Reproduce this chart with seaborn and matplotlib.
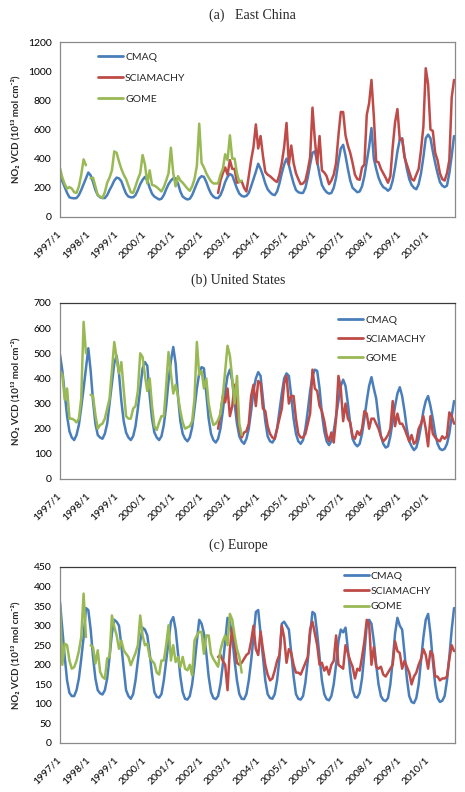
import numpy as np
import pandas as pd
import seaborn as sns
import matplotlib.pyplot as plt
from matplotlib.lines import Line2D

nan = np.nan

# month index 0 = 1997/1 ... 167 = 2010/12
tick_pos = list(range(0, 168, 12))
tick_labels = [f"{y}/1" for y in range(1997, 2011)]
scia_start = 67   # SCIAMACHY from 2002/8
gome_len = 78     # GOME until 2003/6

series_names = ['CMAQ', 'SCIAMACHY', 'GOME']
colors = {'CMAQ': '#4A7EBB', 'SCIAMACHY': '#BE4B48', 'GOME': '#98B954'}

# ---- (a) East China
ec_cmaq = [
    270, 245, 205, 165, 135, 130, 128, 130, 150, 185, 225, 265,
    305, 285, 240, 185, 150, 135, 130, 130, 150, 185, 215, 250,
    270, 265, 245, 200, 160, 140, 135, 135, 150, 185, 225, 255,
    275, 250, 200, 160, 140, 130, 120, 125, 150, 190, 225, 250,
    265, 265, 230, 175, 140, 128, 120, 125, 150, 190, 230, 265,
    280, 275, 240, 195, 160, 140, 130, 130, 150, 190, 240, 275,
    295, 285, 240, 195, 160, 145, 140, 145, 165, 210, 260, 310,
    365, 330, 285, 230, 190, 170, 155, 150, 175, 230, 300, 360,
    400, 355, 290, 230, 185, 170, 165, 165, 200, 270, 360, 440,
    450, 380, 290, 220, 190, 170, 160, 165, 200, 270, 380, 470,
    495, 420, 330, 250, 200, 185, 170, 175, 210, 280, 380, 480,
    610, 400, 330, 270, 230, 205, 195, 180, 195, 250, 340, 450,
    530, 540, 420, 330, 260, 220, 200, 190, 225, 300, 410, 540,
    565, 540, 450, 370, 300, 240, 215, 205, 215, 300, 420, 555,
]
ec_scia = [
    165, 250, 300, 340, 290,
    390, 330, 330, 235, 240, 245, 200, 175, 280, 390, 480, 635,
    470, 555, 420, 310, 290, 280, 265, 250, 240, 290, 370, 480,
    645, 360, 490, 370, 300, 260, 225, 230, 250, 320, 410, 750,
    530, 365, 555, 320, 305, 280, 225, 250, 290, 370, 560, 720,
    720, 560, 490, 440, 370, 290, 260, 255, 340, 360, 700, 780,
    940, 690, 380, 375, 330, 300, 270, 235, 280, 480, 650, 740,
    530, 535, 410, 360, 310, 260, 250, 290, 330, 460, 620, 1020,
    910, 600, 590, 440, 390, 300, 260, 250, 300, 390, 820, 940,
]
ec_gome = [
    335, 270, 225, 195, 205, 195, 170, 165, 210, 290, 395, 355,
    nan, 265, 270, 210, 150, 140, 130, 170, 235, 270, 320, 450,
    440, 380, 330, 290, 260, 215, 170, 165, 210, 260, 300, 425,
    360, 230, 320, 220, 215, 205, 190, 175, 205, 250, 300, 475,
    300, 210, 280, 250, 235, 215, 195, 180, 210, 260, 350, 640,
    370, 340, 300, 270, 245, 230, 230, 230, 290, 330, 430, 390,
    560, 400, 400, 300, 240, 250,
]

# ---- (b) United States
us_cmaq = [
    495, 430, 340, 250, 190, 165, 155, 175, 215, 285, 360, 440,
    520, 430, 310, 220, 175, 165, 160, 180, 220, 300, 380, 460,
    490, 420, 310, 230, 185, 165, 155, 170, 210, 280, 360, 440,
    465, 450, 330, 240, 185, 165, 155, 170, 215, 290, 390, 470,
    525, 460, 330, 230, 180, 160, 150, 165, 205, 280, 360, 420,
    445, 440, 340, 240, 180, 155, 145, 160, 200, 270, 350, 410,
    435, 390, 300, 220, 170, 150, 140, 160, 200, 270, 350, 400,
    425, 410, 320, 230, 170, 150, 145, 160, 200, 270, 340, 400,
    420, 410, 330, 240, 180, 150, 140, 155, 200, 270, 350, 410,
    435, 430, 360, 260, 190, 150, 135, 150, 190, 250, 310, 370,
    395, 370, 300, 220, 160, 140, 130, 140, 180, 240, 310, 370,
    405, 360, 320, 240, 170, 140, 125, 130, 170, 230, 290, 340,
    365, 330, 270, 200, 150, 130, 115, 125, 160, 210, 270, 310,
    330, 290, 240, 180, 140, 120, 115, 120, 140, 180, 250, 310,
]
us_scia = [
    200, 260, 330, 305, 360,
    250, 290, 375, 270, 200, 165, 185, 190, 220, 330, 375, 290,
    390, 380, 280, 270, 210, 180, 165, 160, 200, 240, 280, 380,
    410, 300, 330, 330, 240, 180, 165, 165, 180, 220, 260, 435,
    360, 350, 290, 270, 230, 175, 150, 185, 145, 240, 410, 360,
    230, 300, 240, 225, 170, 160, 190, 175, 200, 270, 260, 200,
    240, 240, 220, 200, 170, 150, 160, 175, 200, 310, 210, 260,
    220, 220, 200, 175, 150, 175, 140, 150, 200, 220, 250, 200,
    130, 250, 180, 165, 155, 150, 170, 160, 170, 265, 250, 220,
]
us_gome = [
    430, 415, 315, 360, 240, 240, 235, 225, 240, 320, 625, 500,
    nan, 335, 330, 255, 200, 215, 220, 240, 280, 320, 430, 545,
    480, 420, 465, 355, 250, 240, 240, 280, 290, 350, 500, 485,
    410, 350, 400, 290, 210, 195, 225, 250, 250, 370, 505, 420,
    340, 375, 330, 270, 225, 200, 205, 210, 230, 320, 545, 415,
    430, 360, 400, 300, 250, 215, 220, 235, 260, 330, 430, 530,
    490, 400, 300, 410, 220, 175,
]

# ---- (c) Europe
eu_cmaq = [
    360, 290, 220, 160, 128, 120, 120, 135, 165, 215, 270, 345,
    340, 290, 220, 165, 135, 127, 124, 135, 165, 220, 280, 315,
    310, 300, 250, 190, 135, 120, 113, 125, 160, 210, 260, 295,
    290, 275, 230, 175, 130, 118, 116, 125, 160, 210, 260, 310,
    322, 290, 230, 170, 130, 113, 111, 120, 150, 200, 260, 315,
    305, 280, 230, 170, 130, 115, 112, 120, 150, 200, 260, 320,
    310, 270, 210, 160, 125, 113, 112, 125, 160, 210, 270, 335,
    340, 280, 220, 160, 125, 115, 113, 125, 160, 215, 305, 310,
    300, 290, 230, 170, 125, 113, 111, 120, 155, 210, 280, 335,
    330, 280, 220, 160, 125, 112, 109, 120, 150, 200, 260, 290,
    283, 295, 240, 180, 135, 118, 116, 128, 165, 230, 300, 315,
    305, 260, 200, 150, 120, 110, 107, 115, 150, 210, 280, 320,
    300, 290, 230, 165, 120, 105, 102, 115, 150, 210, 270, 315,
    330, 280, 210, 150, 115, 105, 108, 120, 160, 220, 290, 345,
]
eu_scia = [
    220, 225, 210, 200, 135,
    240, 295, 250, 205, 200, 205, 215, 225, 230, 260, 300, 240,
    225, 285, 240, 200, 175, 160, 165, 185, 210, 225, 300, 270,
    205, 240, 230, 200, 180, 180, 175, 190, 205, 220, 290, 310,
    280, 250, 200, 205, 185, 195, 175, 200, 210, 275, 200, 195,
    190, 250, 230, 210, 195, 165, 190, 185, 220, 260, 315, 305,
    200, 245, 195, 190, 195, 175, 170, 180, 190, 200, 260, 235,
    230, 190, 210, 195, 180, 150, 170, 180, 200, 215, 240, 225,
    190, 235, 225, 170, 170, 160, 165, 165, 170, 215, 250, 235,
]
eu_gome = [
    352, 200, 254, 250, 211, 190, 194, 210, 235, 271, 382, 271,
    nan, 250, 245, 203, 237, 182, 169, 164, 216, 220, 326, 297,
    275, 241, 262, 237, 228, 220, 199, 215, 230, 250, 326, 275,
    250, 254, 220, 210, 203, 180, 175, 211, 211, 250, 301, 211,
    250, 207, 220, 194, 220, 190, 186, 200, 173, 262, 275, 284,
    284, 228, 275, 275, 228, 215, 205, 195, 237, 260, 275, 250,
    330, 315, 275, 240, 220, 180,
]


def panel_frame(cmaq, scia, gome):
    parts = []
    for name, vals, start in [('CMAQ', cmaq, 0), ('SCIAMACHY', scia, scia_start),
                              ('GOME', gome, 0)]:
        v = np.asarray(vals, dtype=float)
        parts.append(pd.DataFrame({
            'month': np.arange(start, start + len(v)),
            'value': v,
            'series': name,
            'seg': np.cumsum(np.isnan(v)),   # break the line at missing months
        }))
    return pd.concat(parts, ignore_index=True)


sns.set_style('white')
plt.rcParams['font.family'] = ['Lato', 'DejaVu Sans']

fig = plt.figure(figsize=(4.65, 7.92), dpi=100)
W, H = 465.0, 792.0

panels = [
    # title, title xy (px), axes box px (left, top, right, bottom), ymax, ystep, data, legend, top spine
    ('(a)   East China', (252, 15), (60, 42, 455, 217), 1200, 200,
     (ec_cmaq, ec_scia, ec_gome), (0.096, 0.94, 1.12), '#8a8a8a'),
    ('(b) United States', (238, 280), (60, 303, 455, 479), 700, 100,
     (us_cmaq, us_scia, us_gome), (0.705, 0.93, 0.93), '#3a3a3a'),
    ('(c) Europe', (238, 545), (60, 567, 455, 743), 450, 50,
     (eu_cmaq, eu_scia, eu_gome), (0.718, 0.975, 0.58), '#3a3a3a'),
]

for title, (tx, ty), (l, t, r, b), ymax, ystep, data, (lx, ly, lsp), top_c in panels:
    ax = fig.add_axes([l / W, 1 - b / H, (r - l) / W, (b - t) / H])
    df = panel_frame(*data)
    sns.lineplot(data=df, x='month', y='value', hue='series', units='seg',
                 estimator=None, hue_order=series_names, palette=colors,
                 lw=1.8, legend=False, ax=ax)

    ax.set_xlim(0, 167.4)
    ax.set_ylim(0, ymax)
    ax.set_yticks(np.arange(0, ymax + 1, ystep))
    ax.set_xticks(tick_pos)
    ax.set_xticklabels(tick_labels, rotation=45, ha='right', va='center',
                       rotation_mode='anchor')
    ax.tick_params(axis='both', labelsize=7.5, colors='black', length=3,
                   width=0.8, direction='out', pad=3)
    ax.tick_params(axis='x', pad=8)
    for sp in ax.spines.values():
        sp.set_color('#8a8a8a')
        sp.set_linewidth(0.9)
    ax.spines['top'].set_color(top_c)
    ax.tick_params(axis='both', color='#8a8a8a')
    ax.set_xlabel('')
    ax.set_ylabel('NO₂ VCD (10¹³ mol cm⁻²)', fontsize=7, fontweight='bold')
    ax.yaxis.set_label_coords(-0.1, 0.5)

    handles = [Line2D([], [], color=colors[s], lw=2.0) for s in series_names]
    ax.legend(handles, series_names, loc='upper left', bbox_to_anchor=(lx, ly),
              frameon=False, fontsize=7.5, handlelength=2.4, handletextpad=0.2,
              labelspacing=lsp, borderpad=0, borderaxespad=0)

    fig.text(tx / W, 1 - ty / H, title, ha='center', va='center',
             fontsize=10, family='Liberation Serif')

fig.savefig('out.png', dpi=100)
